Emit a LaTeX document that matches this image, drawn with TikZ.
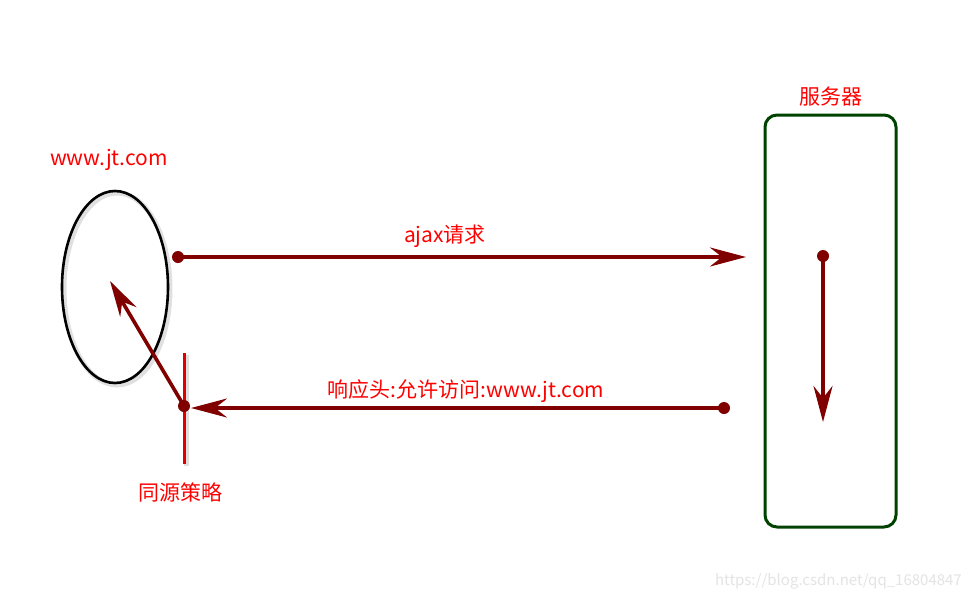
\documentclass[tikz,border=0pt]{standalone}
\usepackage{fontspec}
\setmainfont{Noto Sans CJK SC}
\usetikzlibrary{arrows.meta}
\definecolor{arrowred}{RGB}{128,0,0}
\definecolor{labelred}{RGB}{255,0,0}
\definecolor{gatered}{RGB}{225,0,0}
\definecolor{servergreen}{RGB}{0,66,0}
\definecolor{wmgray}{RGB}{228,228,228}
\tikzset{
  flow/.style={draw=arrowred, line width=3.6pt, -{Stealth[length=36pt, width=19pt, inset=12pt]}},
  dotnode/.style={circle, fill=arrowred, inner sep=0pt, minimum size=12pt},
  lbl/.style={text=labelred, font=\fontsize{21}{25}\selectfont, inner sep=0pt},
  shadowline/.style={draw=black, opacity=0.12, line width=5pt},
}
\begin{document}
\begin{tikzpicture}[x=1pt,y=-1pt]
\useasboundingbox[fill=white] (0,0) rectangle (972,600);
% client ellipse
\draw[shadowline] (117,289) ellipse [x radius=53, y radius=96];
\draw[black, line width=2.6pt] (115,287) ellipse [x radius=53, y radius=96];
\node[lbl] (client) at (109,160) {www.jt.com};
% server box
\draw[servergreen, line width=3pt, rounded corners=12pt] (765,115) rectangle (896,527);
\node[lbl] (serverlbl) at (831,97) {服务器};
% gate line
\draw[shadowline] (186,355) -- (186,466);
\draw[gatered, line width=3pt] (184,353) -- (184,464);
\node[lbl] (gatelbl) at (180,492) {同源策略};
% request
\node[dotnode] (reqs) at (178,257) {};
\coordinate (reqe) at (746,257);
\draw[flow] (reqs.center) -- (reqe);
\node[lbl] (reqlbl) at (445,236) {ajax请求};
% server processing
\node[dotnode] (srvs) at (823,256) {};
\coordinate (srve) at (823,422);
\draw[flow] (srvs.center) -- (srve);
% response
\node[dotnode] (resps) at (724,408) {};
\coordinate (respe) at (191,408);
\draw[flow] (resps.center) -- (respe);
\node[lbl] (resplbl) at (466,391) {响应头:允许访问:www.jt.com};
% gate to client
\node[dotnode] (gates) at (184,406) {};
\coordinate (gatee) at (110,281);
\draw[flow] (gates.center) -- (gatee);
% watermark
\node[text=wmgray, font=\fontsize{15}{18}\selectfont, inner sep=0pt, anchor=east] (wm) at (962,581) {https://blog.csdn.net/qq\_16804847};
\end{tikzpicture}
\end{document}
